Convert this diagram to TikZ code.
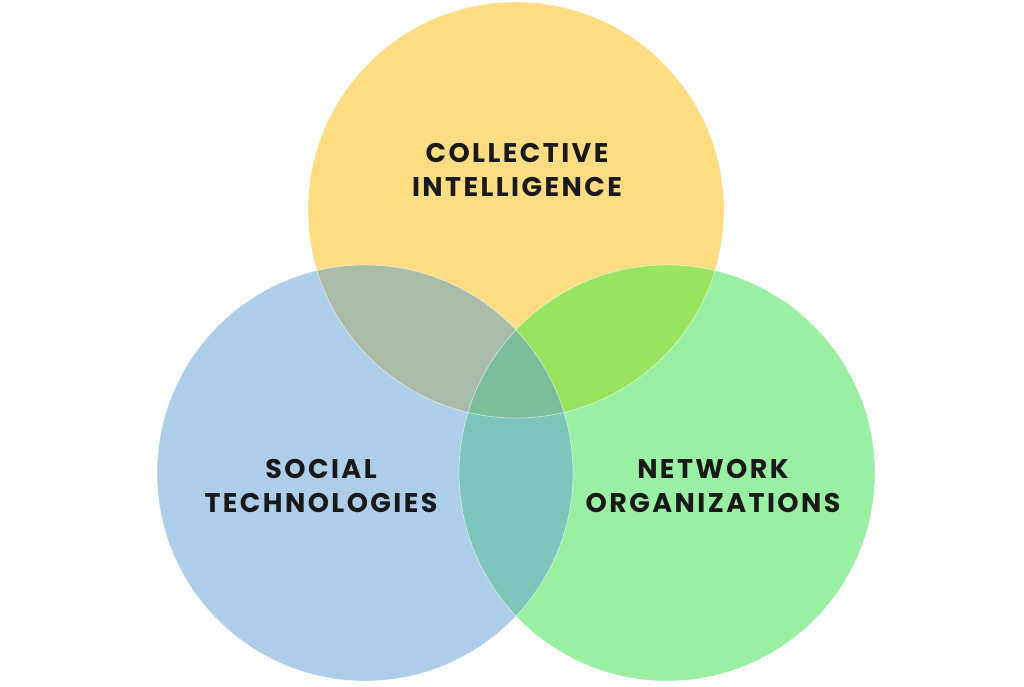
\documentclass[tikz,border=0pt]{standalone}
\usepackage{fontspec}
\setmainfont{Poppins}[LetterSpace=9]
\definecolor{cY}{HTML}{FDDC82}
\definecolor{cB}{HTML}{AECDE8}
\definecolor{cG}{HTML}{99F0A2}
\definecolor{cYB}{HTML}{AABBA8}
\definecolor{cYG}{HTML}{98E460}
\definecolor{cBG}{HTML}{7CC6BC}
\definecolor{cYBG}{HTML}{7DBE9A}
\begin{document}
\begin{tikzpicture}[x=1pt,y=-1pt,
  lab/.style={align=center,font=\fontsize{27}{34}\selectfont\bfseries,text=black!90,inner sep=0pt},
  edge/.style={draw=white,draw opacity=0.5,line width=0.8pt}]
\useasboundingbox (0,0) rectangle (1024,687);
\fill[white] (0,0) rectangle (1024,687);
\coordinate (Y) at (516,210);
\coordinate (B) at (365,473);
\coordinate (G) at (667,473);
\def\R{208}
\fill[cY] (Y) circle[radius=\R];
\fill[cB] (B) circle[radius=\R];
\fill[cG] (G) circle[radius=\R];
\begin{scope}
  \clip (Y) circle[radius=\R];
  \fill[cYB] (B) circle[radius=\R];
  \fill[cYG] (G) circle[radius=\R];
\end{scope}
\begin{scope}
  \clip (B) circle[radius=\R];
  \fill[cBG] (G) circle[radius=\R];
  \clip (Y) circle[radius=\R];
  \fill[cYBG] (G) circle[radius=\R];
\end{scope}
\draw[edge] (Y) circle[radius=\R];
\draw[edge] (B) circle[radius=\R];
\draw[edge] (G) circle[radius=\R];
\node[lab] (ci) at (517,170) {COLLECTIVE\\INTELLIGENCE};
\node[lab] (st) at (321,486) {SOCIAL\\TECHNOLOGIES};
\node[lab] (no) at (713,486) {NETWORK\\ORGANIZATIONS};
\end{tikzpicture}
\end{document}
